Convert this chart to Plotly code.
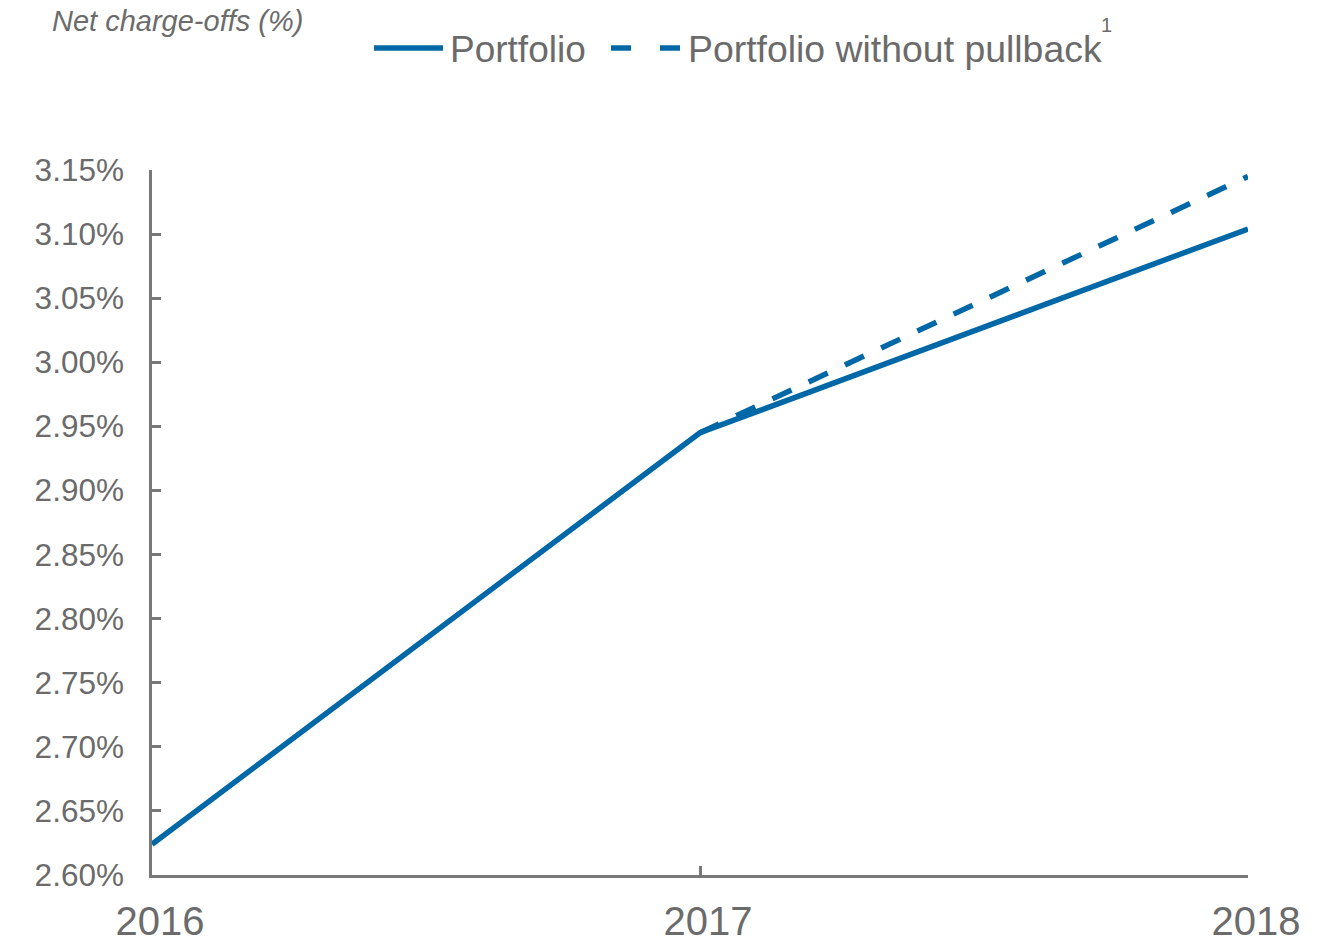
import plotly.graph_objects as go

# Net charge-off rates by year (%)
years = [2016, 2017, 2018]
portfolio = [2.624, 2.945, 3.104]
years_no_pullback = [2017, 2018]
portfolio_no_pullback = [2.945, 3.145]

y_tick_vals = [2.60, 2.65, 2.70, 2.75, 2.80, 2.85, 2.90, 2.95, 3.00, 3.05, 3.10, 3.15]
y_tick_text = ["2.60%", "2.65%", "2.70%", "2.75%", "2.80%", "2.85%", "2.90%",
               "2.95%", "3.00%", "3.05%", "3.10%", "3.15%"]
x_tick_vals = [2016, 2017, 2018]
x_tick_text = ["2016", "2017", "2018"]

BLUE = "#0068A6"
GREY_TEXT = "#6B6B6B"
GREY_AXIS = "#787878"
FONT = "Liberation Sans, Arial, sans-serif"

W, H = 1341, 951
L, R, T, B = 152, 93, 170, 76
PW, PH = W - L - R, H - T - B


def px(x):
    return (x - L) / PW


def py(y):
    return (H - B - y) / PH


fig = go.Figure()
fig.add_trace(go.Scatter(
    x=years_no_pullback, y=portfolio_no_pullback, mode="lines",
    line=dict(color=BLUE, width=5.5, dash="21px,19px"),
    name="Portfolio without pullback", showlegend=False, hoverinfo="skip"))
fig.add_trace(go.Scatter(
    x=years, y=portfolio, mode="lines",
    line=dict(color=BLUE, width=5.5),
    name="Portfolio", showlegend=False, hoverinfo="skip"))

# Legend built from shapes and labels
shapes = [
    dict(type="line", xref="paper", yref="paper",
         x0=px(374), x1=px(443), y0=py(48), y1=py(48),
         line=dict(color=BLUE, width=5.5)),
    dict(type="line", xref="paper", yref="paper",
         x0=px(611), x1=px(631), y0=py(48), y1=py(48),
         line=dict(color=BLUE, width=5.5)),
    dict(type="line", xref="paper", yref="paper",
         x0=px(660), x1=px(680), y0=py(48), y1=py(48),
         line=dict(color=BLUE, width=5.5)),
]

annotations = [
    dict(text="Net charge-offs (%)", xref="paper", yref="paper",
         x=px(50), y=py(21), xanchor="left", yanchor="middle", showarrow=False,
         font=dict(family=FONT, size=29, color=GREY_TEXT, style="italic")),
    dict(text="Portfolio", xref="paper", yref="paper",
         x=px(448), y=py(49), xanchor="left", yanchor="middle", showarrow=False,
         font=dict(family=FONT, size=37, color=GREY_TEXT)),
    dict(text="Portfolio without pullback", xref="paper", yref="paper",
         x=px(686), y=py(49), xanchor="left", yanchor="middle", showarrow=False,
         font=dict(family=FONT, size=37.4, color=GREY_TEXT)),
    dict(text="1", xref="paper", yref="paper",
         x=px(1099), y=py(25), xanchor="left", yanchor="middle", showarrow=False,
         font=dict(family=FONT, size=20, color=GREY_TEXT)),
]

fig.update_layout(
    width=W, height=H,
    margin=dict(l=L, r=R, t=T, b=B, pad=0),
    paper_bgcolor="white", plot_bgcolor="white",
    shapes=shapes, annotations=annotations,
    showlegend=False,
    font=dict(family=FONT, color=GREY_TEXT),
)

fig.update_xaxes(
    range=[2016, 2018], tickvals=x_tick_vals, ticktext=x_tick_text,
    showgrid=False, zeroline=False, automargin=False,
    showline=True, linecolor=GREY_AXIS, linewidth=2.5,
    ticks="inside", ticklen=9, tickwidth=2.5, tickcolor=GREY_AXIS,
    tickfont=dict(family=FONT, size=40, color=GREY_TEXT),
    ticklabelstandoff=9, ticklabelshift=8,
)
fig.update_yaxes(
    range=[2.60, 3.15], tickvals=y_tick_vals, ticktext=y_tick_text,
    showgrid=False, zeroline=False, automargin=False,
    showline=True, linecolor=GREY_AXIS, linewidth=2.5,
    ticks="inside", ticklen=9, tickwidth=2.5, tickcolor=GREY_AXIS,
    tickfont=dict(family=FONT, size=31.5, color=GREY_TEXT),
    ticklabelstandoff=19,
)

fig.write_html("out.html")
